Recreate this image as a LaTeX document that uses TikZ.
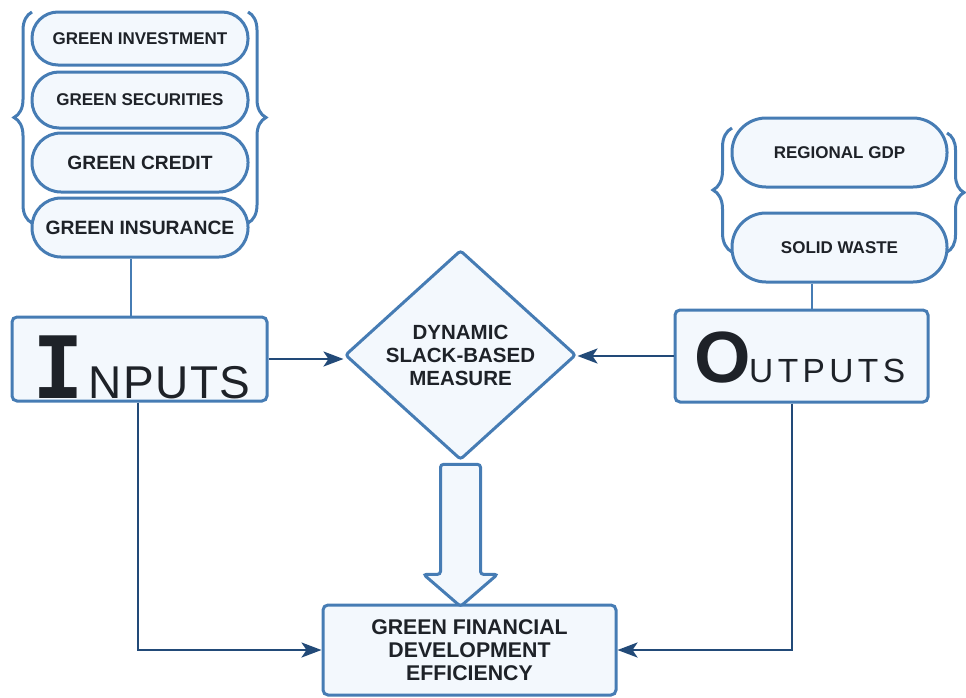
\documentclass[tikz,border=0pt]{standalone}
\usepackage{fontspec}
\setmainfont{Liberation Sans}
\newfontfamily\bigIfont{DejaVu Sans Mono}
\usetikzlibrary{shapes.geometric,arrows.meta,decorations.pathreplacing,calc}
\definecolor{bordc}{RGB}{70,124,180}
\definecolor{fillc}{RGB}{243,248,253}
\definecolor{navy}{RGB}{34,74,120}
\definecolor{txtc}{RGB}{30,34,40}
\tikzset{
  stad/.style={draw=bordc, fill=fillc, line width=3pt, text=txtc, font=\bfseries, inner sep=0pt, align=center},
  bigbox/.style={draw=bordc, fill=fillc, line width=3pt, rounded corners=5pt, inner sep=0pt},
  bracestyle/.style={draw=bordc, line width=3pt, decorate},
  conn/.style={draw=bordc, line width=2.8pt},
  arrowline/.style={draw=navy, line width=2.6pt, -{Stealth[length=20pt,width=15pt,inset=5pt]}},
  lbl/.style={inner sep=0pt, text=txtc}
}
\begin{document}
\begin{tikzpicture}[x=1pt,y=-1pt]
\useasboundingbox (0,0) rectangle (966,697);
% braces (behind stadiums)
\draw[bracestyle, decoration={brace, amplitude=18pt}] (32,223) -- (32,12);
\draw[bracestyle, decoration={brace, amplitude=18pt}] (248,12) -- (248,223);
\draw[bracestyle, decoration={brace, amplitude=19pt}] (732,252) -- (732,128);
\draw[bracestyle, decoration={brace, amplitude=17pt}] (947,133) -- (947,252);
% input stadiums
\node[stad, minimum width=216pt, minimum height=53pt, rounded corners=26pt, font=\bfseries\fontsize{17}{18}\selectfont] (s1) at (140,38.5) {GREEN INVESTMENT};
\node[stad, minimum width=216pt, minimum height=56pt, rounded corners=27pt, font=\bfseries\fontsize{17}{18}\selectfont] (s2) at (140,100) {GREEN SECURITIES};
\node[stad, minimum width=216pt, minimum height=59pt, rounded corners=29pt, font=\bfseries\fontsize{19.2}{20}\selectfont] (s3) at (140,162.5) {GREEN CREDIT};
\node[stad, minimum width=216pt, minimum height=59pt, rounded corners=29pt, font=\bfseries\fontsize{19.3}{20}\selectfont] (s4) at (140,227.5) {GREEN INSURANCE};
% output stadiums
\node[stad, minimum width=215pt, minimum height=69pt, rounded corners=34pt, font=\bfseries\fontsize{17}{18}\selectfont] (r1) at (839.5,152.5) {REGIONAL GDP};
\node[stad, minimum width=215pt, minimum height=69pt, rounded corners=34pt, font=\bfseries\fontsize{17}{18}\selectfont] (r2) at (839.5,247.5) {SOLID WASTE};
% main boxes
\node[bigbox, minimum width=255pt, minimum height=84pt] (inputs) at (139.5,359) {};
\node[bigbox, minimum width=253pt, minimum height=92pt] (outputs) at (801.5,356) {};
\node[lbl, anchor=base west] (intext) at (32.5,398) {{\bigIfont\bfseries\fontsize{86}{86}\selectfont I}\kern4pt{\fontsize{46}{46}\selectfont N\kern1.5pt P\kern1.5pt U\kern1.5pt T\kern1.5pt S}};
\node[lbl, anchor=base west] (outtext) at (694.5,382) {{\bfseries\fontsize{72.6}{72}\selectfont O}\kern-2pt{\fontsize{33.5}{34}\selectfont U\kern4.4pt T\kern4.4pt P\kern4.4pt U\kern4.4pt T\kern4.4pt S}};
\node[shape=diamond, draw=bordc, fill=fillc, line width=3pt, rounded corners=3pt, minimum width=231pt, minimum height=194pt, inner sep=0pt, text=txtc, align=center, font=\bfseries\fontsize{20.5}{23}\selectfont] (diamond) at (460.5,355) {DYNAMIC\\SLACK-BASED\\MEASURE};
\node[bigbox, minimum width=293pt, minimum height=90pt, text=txtc, align=center, font=\bfseries\fontsize{21.3}{23}\selectfont] (gfde) at (469.5,650) {GREEN FINANCIAL\\DEVELOPMENT\\EFFICIENCY};
% block arrow
\draw[draw=bordc, fill=fillc, line width=3pt, rounded corners=3pt] ($(diamond.south)+(-20,3)$) -- ++(40,0) -- ++(0,110) -- ++(17,0) -- ++(-37,32) -- ++(-37,-32) -- ++(17,0) -- cycle;
% connectors
\draw[conn] ([xshift=-9pt]s4.south) -- ([xshift=-8.5pt]inputs.north);
\draw[conn] ([xshift=-27.5pt]r2.south) -- ([xshift=10.5pt]outputs.north);
\draw[arrowline] (inputs.east) -- (inputs.east -| diamond.west);
\draw[arrowline] (outputs.west) -- (outputs.west -| diamond.east);
\draw[arrowline] ([xshift=-1.5pt]inputs.south) |- (gfde.west);
\draw[arrowline] ([xshift=-9.5pt]outputs.south) |- (gfde.east);
\end{tikzpicture}
\end{document}
